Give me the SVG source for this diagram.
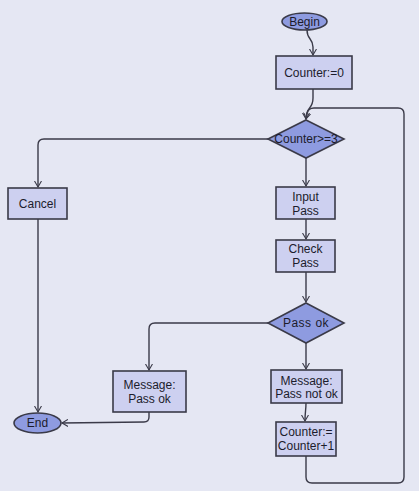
<svg xmlns="http://www.w3.org/2000/svg" width="419" height="491" viewBox="0 0 419 491">
<defs>
<style>
.bg{fill:#e5e7f3}
.box{fill:#cdd0f0;stroke:#3a3a48;stroke-width:1.6}
.dark{fill:#8e9be0;stroke:#3a3a48;stroke-width:1.6}
.c{fill:none;stroke:#3a3a48;stroke-width:1.4}
text{font-family:"Liberation Sans",Arial,sans-serif;font-size:12px;fill:#1c1c2c;text-anchor:middle}
</style>
<marker id="a" markerWidth="8" markerHeight="8" refX="6" refY="4" orient="auto" markerUnits="userSpaceOnUse">
<path d="M0,0.5 L6,4 L0,7.5" fill="none" stroke="#3a3a48" stroke-width="1.1"/>
</marker>
</defs>
<rect class="bg" x="0" y="0" width="419" height="491"/>
<g id="connectors">
<path class="c" d="M307,30 C307,40 313,38 313,47 L313,55" marker-end="url(#a)"/>
<path class="c" d="M313,89 L313,98 C313,110 306,106 306,119" marker-end="url(#a)"/>
<path class="c" d="M306,455 L306,477 Q306,483 312,483 L398,483 Q404,483 404,477 L404,114 Q404,108 398,108 L314,108 Q308,108 307,114 L306,119" marker-end="url(#a)"/>
<path class="c" d="M268,139 L44,139 Q38,139 38,145 L38,187" marker-end="url(#a)"/>
<path class="c" d="M38,219 L38,412" marker-end="url(#a)"/>
<path class="c" d="M306,158 L306,186" marker-end="url(#a)"/>
<path class="c" d="M306,219 L306,239" marker-end="url(#a)"/>
<path class="c" d="M306,272 L306,302" marker-end="url(#a)"/>
<path class="c" d="M268,323 L155,323 Q149,323 149,329 L149,370" marker-end="url(#a)"/>
<path class="c" d="M306,343 L306,369" marker-end="url(#a)"/>
<path class="c" d="M149,412 L149,417 Q149,422 144,422 L62,423" marker-end="url(#a)"/>
<path class="c" d="M306,403 C306,410 305,412 305,421" marker-end="url(#a)"/>
</g>
<g id="begin"><ellipse class="dark" cx="304.5" cy="21.5" rx="22.5" ry="8.5"/><text x="304.5" y="25.5">Begin</text></g>
<g id="init"><rect class="box" x="276" y="56" width="76" height="33"/><text x="314" y="77">Counter:=0</text></g>
<g id="check-counter"><polygon class="dark" points="306,120 344,139 306,158 268,139"/><text x="306" y="143">Counter&gt;=3</text></g>
<g id="cancel"><rect class="box" x="8" y="188" width="59" height="31"/><text x="37.5" y="208">Cancel</text></g>
<g id="input-pass"><rect class="box" x="276" y="187" width="59" height="32"/><text x="305.5" y="201">Input</text><text x="305.5" y="215">Pass</text></g>
<g id="check-pass"><rect class="box" x="276" y="240" width="59" height="32"/><text x="305.5" y="253">Check</text><text x="305.5" y="267">Pass</text></g>
<g id="pass-ok"><polygon class="dark" points="306,303 344,323 306,343 268,323"/><text x="306" y="327" style="letter-spacing:0.5px">Pass ok</text></g>
<g id="msg-ok"><rect class="box" x="113" y="371" width="73" height="41"/><text x="149.5" y="389">Message:</text><text x="149.5" y="403">Pass ok</text></g>
<g id="msg-not-ok"><rect class="box" x="271" y="370" width="71" height="33"/><text x="306.5" y="385">Message:</text><text x="306.5" y="398">Pass not ok</text></g>
<g id="increment"><rect class="box" x="276" y="422" width="60" height="34"/><text x="306" y="436">Counter:=</text><text x="306" y="450">Counter+1</text></g>
<g id="end"><ellipse class="dark" cx="37.5" cy="423" rx="23.5" ry="10"/><text x="37.5" y="427">End</text></g>
</svg>
